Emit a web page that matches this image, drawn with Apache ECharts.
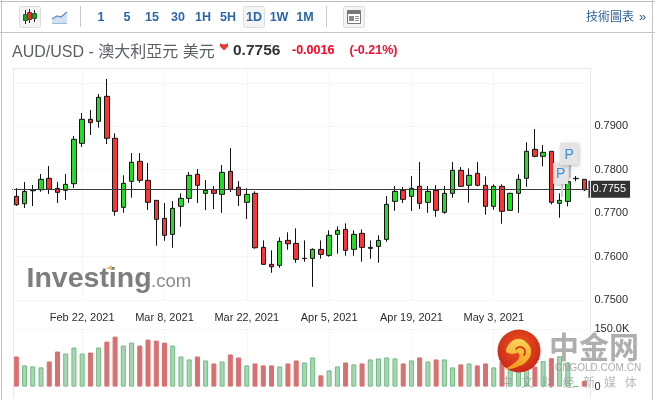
<!DOCTYPE html>
<html><head><meta charset="utf-8">
<style>html,body{margin:0;padding:0;background:#fff}#c{width:655px;height:400px}</style>
<script src="https://cdn.jsdelivr.net/npm/echarts@6/dist/echarts.min.js"></script>
</head><body><div id="c"></div>
<script>
const dates = ['Feb 10, 2021','Feb 11, 2021','Feb 12, 2021','Feb 15, 2021','Feb 16, 2021','Feb 17, 2021','Feb 18, 2021','Feb 19, 2021',
'Feb 22, 2021','Feb 23, 2021','Feb 24, 2021','Feb 25, 2021','Feb 26, 2021','Mar 1, 2021','Mar 2, 2021','Mar 3, 2021','Mar 4, 2021','Mar 5, 2021',
'Mar 8, 2021','Mar 9, 2021','Mar 10, 2021','Mar 11, 2021','Mar 12, 2021','Mar 15, 2021','Mar 16, 2021','Mar 17, 2021','Mar 18, 2021','Mar 19, 2021',
'Mar 22, 2021','Mar 23, 2021','Mar 24, 2021','Mar 25, 2021','Mar 26, 2021','Mar 29, 2021','Mar 30, 2021','Mar 31, 2021','Apr 1, 2021','Apr 2, 2021',
'Apr 5, 2021','Apr 6, 2021','Apr 7, 2021','Apr 8, 2021','Apr 9, 2021','Apr 12, 2021','Apr 13, 2021','Apr 14, 2021','Apr 15, 2021','Apr 16, 2021',
'Apr 19, 2021','Apr 20, 2021','Apr 21, 2021','Apr 22, 2021','Apr 23, 2021','Apr 26, 2021','Apr 27, 2021','Apr 28, 2021','Apr 29, 2021','Apr 30, 2021',
'May 3, 2021','May 4, 2021','May 5, 2021','May 6, 2021','May 7, 2021','May 10, 2021','May 11, 2021','May 12, 2021','May 13, 2021','May 14, 2021','May 17, 2021','May 18, 2021'];
const tickDates = ['Feb 22, 2021','Mar 8, 2021','Mar 22, 2021','Apr 5, 2021','Apr 19, 2021','May 3, 2021'];
const opens = [.77387,.77217,.77516,.77539,.77802,.77572,.77525,.77678,.78608,.79161,.79115,.79691,.78724,.77134,.77733,.78194,.77756,.77295,.7688,.76512,.77157,.77341,.77894,.77456,.77539,.77433,.77963,.77595,.77249,.77456,.76212,.75821,.75798,.76373,.76304,.75954,.75959,.76166,.76028,.76512,.76627,.76166,.76535,.76189,.76235,.76396,.77272,.77525,.77387,.77618,.77249,.77525,.77019,.77456,.77986,.77641,.77917,.77641,.77157,.77618,.77065,.77456,.77802,.7847,.78309,.78424,.77226,.77272,.77795,.77779];
const closes = [.77194,.77502,.77532,.77779,.77549,.77479,.77664,.78701,.79161,.79083,.79668,.78724,.77042,.77687,.78171,.77756,.77249,.76857,.76489,.77111,.77341,.77871,.77641,.77525,.77456,.7794,.77549,.7741,.77433,.76203,.75821,.75765,.7635,.76295,.75936,.75959,.76166,.76051,.76489,.76604,.76143,.76512,.76212,.76212,.76373,.77203,.77502,.77318,.77572,.77226,.77502,.77065,.77456,.77986,.77618,.77871,.77641,.77157,.77618,.77042,.77456,.77779,.78424,.78309,.78401,.77249,.77295,.77724,.77802,.77539];
const lows = [.77164,.77118,.77164,.77493,.7744,.77233,.77302,.77578,.78523,.788,.78968,.78592,.7694,.77009,.77355,.77701,.77072,.76249,.76364,.76203,.76687,.77233,.77233,.77072,.77095,.77009,.77486,.77164,.76864,.7618,.75811,.75627,.75742,.76157,.75857,.7588,.75304,.7595,.75996,.76065,.76019,.76019,.7588,.7595,.75857,.76341,.77055,.77233,.77049,.77095,.77009,.76917,.76986,.77355,.77602,.7724,.77618,.76963,.77078,.76756,.77065,.77009,.77608,.78286,.78078,.77203,.76894,.77157,.77733,.77509];
const highs = [.77578,.77717,.77648,.77901,.78085,.77717,.77901,.78777,.79306,.79376,.79744,.8009,.78839,.77871,.78385,.78385,.78154,.77302,.77233,.77279,.77456,.77947,.78016,.77763,.77625,.78108,.785,.7774,.77572,.77502,.76373,.76143,.76443,.76558,.7665,.76373,.76189,.76373,.76604,.76696,.76765,.76604,.76627,.76373,.76489,.77394,.77625,.77602,.77855,.78178,.77625,.77648,.77625,.78178,.78062,.78032,.78178,.77848,.77664,.77664,.7747,.77894,.78631,.78938,.78569,.78424,.77456,.77993,.77855,.77779];
const volumes = [78400,55200,52600,50000,65500,91400,86200,101700,86200,88800,101700,117200,130200,106900,114600,106900,122400,119800,114600,106900,78400,70700,78400,68100,60300,65500,83600,75900,55200,60300,55200,55200,52600,60300,68100,62900,75900,29300,42200,52600,62900,57800,60300,70700,73300,75900,73300,60300,68100,75900,65500,70700,70700,50000,57800,60300,55200,60300,50000,65000,55000,55000,60000,52000,66400,74000,79000,63000,1000,14700];
const lastPrice = 0.7755;
const volumeMax = 150000;
const intervals = ['1','5','15','30','1H','5H','1D','1W','1M'];
const intervalX = [101,127,152,178,203,228,254,279,305];
const sloganChars = ['中','文','财','经','新','媒','体'];

const FONT = '"Liberation Sans", Arial, sans-serif';
const CJK = '"Liberation Sans", "Noto Sans CJK TC", sans-serif';
const GREEN='#22dd22', RED='#ff3333', INK='#111', GRID='#f5f6f8', FRAME='#e6e9f0', BLUE='#2a66a8';
const t=(text,x,y,font,fill,extra)=>Object.assign({type:'text',style:Object.assign({text,x,y,font,fill,textVerticalAlign:'middle'},extra||{})});
const ln=(x1,y1,x2,y2,stroke,w)=>({type:'line',shape:{x1,y1,x2,y2},style:{stroke,lineWidth:w||1}});
const box=(x,y,w,h,fill,stroke,r)=>({type:'rect',shape:{x,y,width:w,height:h,r:r||0},style:{fill,stroke:stroke||null,lineWidth:1}});
const shadow=(b)=>{b.style.shadowBlur=4;b.style.shadowColor='rgba(0,0,0,.25)';b.style.shadowOffsetX=1;b.style.shadowOffsetY=1;return b;};

const gfx=[
  ln(1.5,0,1.5,400,'#c4c4c4'),ln(0,1.5,655,1.5,'#bcbcbc'),ln(652.5,0,652.5,400,'#c4c4c4'),ln(0,32.5,655,32.5,'#c4c4c4'),
  box(19.5,6.5,21,21,'#f4f4f4','#dcdcdc',2),
  ln(25.5,10,25.5,24,'#222'),box(23.5,14.5,4,6,'#1f9d2a','#1a6e22'),
  ln(29.5,9,29.5,23,'#222'),box(27.5,12.5,4,7,'#ee2b2b','#992222'),
  ln(34.5,10,34.5,22,'#222'),box(32.5,13.5,4,5,'#1f9d2a','#1a6e22'),
  {type:'polygon',shape:{points:[[52,19],[57,16],[61,17],[67,12],[67,23],[52,23]]},style:{fill:'#d3e0f2',stroke:null}},
  {type:'polyline',shape:{points:[[52,19],[57,16],[61,17],[67,12]]},style:{stroke:'#5f8cc4',fill:null,lineWidth:1.2}},
  ln(52,23.5,67,23.5,'#9db8da'),
  ln(80.5,6,80.5,27,'#c8c8c8'),ln(326.5,6,326.5,27,'#c8c8c8'),
  box(243.5,6.5,21,21,'#f4f4f4','#dcdcdc',2),
  box(343.5,6.5,21,21,'#f4f4f4','#dcdcdc',2),
  box(347.5,10.5,13,13,'#fff','#777'),box(348,11,12,3,'#777'),box(349,16,5,5,'#888'),
  ln(355,16.5,359,16.5,'#999'),ln(355,18.5,359,18.5,'#999'),ln(355,20.5,359,20.5,'#999'),
  t('技術圖表',586,18,'12px '+CJK,'#2a5f97'),t('»',639,17,'13px '+FONT,'#2a5f97'),
  t('AUD/USD - 澳大利亞元 美元',12,53,'16px '+CJK,'#5b5f66'),
  {type:'polygon',shape:{points:[[220,43.5],[224,44.5],[228,43.5],[228,46.5],[224,50.5],[220,46.5]]},style:{fill:'#e53a3a'}},
  t('0.7756',233,50.5,'bold 15.5px '+FONT,'#333'),
  t('-0.0016',292,51,'bold 12.5px '+FONT,'#ff0022'),
  t('(-0.21%)',349.5,51,'bold 12.5px '+FONT,'#ee1133'),
  ln(13.5,68.5,590.5,68.5,FRAME),ln(13.5,68,13.5,398,FRAME),ln(590.5,68,590.5,398,FRAME),
  t('Investing',26.5,279,'bold 28.5px "Liberation Sans", Arial, sans-serif','#7e7e7e'),
  {type:'polygon',shape:{points:[[106,269],[112,265],[112,269]]},style:{fill:'#f3b65c'}},
  t('.com',151,282,'18.5px "Liberation Sans", Arial, sans-serif','#8a8a8a'),
  ln(562,184,562,197,'#cfcfcf',2),shadow(box(553,163,15,21,'#e6e6e6',null)),t('P',556,174.5,'14px '+FONT,'#3b8fd6'),
  ln(570,165,570,178,'#bdbdbd',2),shadow(box(560,143,18,22,'#e4e4e4',null)),t('P',564.5,155,'14px '+FONT,'#3b8fd6'),
  {type:'circle',shape:{cx:519,cy:351,r:21.5},style:{fill:{type:'radial',x:.5,y:.4,r:.6,colorStops:[{offset:0,color:'#ef5a1c'},{offset:1,color:'#c9261a'}]}}},
  {type:'polygon',shape:{smooth:0.45,points:[[506,351],[511,342],[519,339],[527,343],[531,351],[527,361],[517,367],[506,369],[513,364],[519,358],[518,353],[512,354]]},style:{fill:{type:'linear',x:0,y:0,x2:0,y2:1,colorStops:[{offset:0,color:'#f8d458'},{offset:1,color:'#f29a1c'}]}}},
  {type:'arc',shape:{cx:520,cy:352,r:5,startAngle:-2.6,endAngle:0.8,clockwise:true},style:{stroke:'#d8401a',lineWidth:2,fill:null}},
  t('中金网',549,347,'bold 30px "Noto Sans CJK SC", sans-serif','rgba(160,160,160,.85)'),
  t('CNGOLD.COM.CN',555,368.5,'10px '+FONT,'rgba(150,150,150,.8)')
].concat(sloganChars.map((c,i)=>t(c,506.5+20.7*i,382,'12px "Noto Sans CJK SC", sans-serif','rgba(140,140,140,.6)',{textAlign:'center'})))
 .map(g=>Object.assign({z:100,silent:true},g));

const chart=echarts.init(document.getElementById('c'),null,{renderer:'canvas'});
chart.setOption({
  animation:false,
  grid:[{left:12.2,width:576.2,top:69,height:231},{left:12.2,width:576.2,top:329,height:57.6}],
  xAxis:[
    {type:'category',gridIndex:0,data:dates,axisLine:{show:false},axisTick:{show:false},axisLabel:{show:false},splitLine:{show:false}},
    {type:'category',gridIndex:1,position:'top',data:dates,axisLine:{show:false},axisTick:{show:false},splitLine:{show:false},
     axisLabel:{show:true,interval:(i,v)=>tickDates.includes(v),color:'#2b2b2b',fontFamily:FONT,fontSize:11,margin:6}}
  ],
  yAxis:[
    {type:'value',gridIndex:0,position:'right',min:0.75,max:0.8032,interval:0.01,
     axisLine:{show:false},axisTick:{show:false},
     splitLine:{show:true,showMinLine:true,showMaxLine:false,lineStyle:{color:GRID,width:1}},
     axisLabel:{color:'#2b2b2b',fontFamily:FONT,fontSize:11,margin:6,
       showMaxLabel:false,formatter:v=>(v>0.795)?'':v.toFixed(4)}},
    {type:'value',gridIndex:1,position:'right',min:0,max:volumeMax,interval:volumeMax,
     axisLine:{show:false},axisTick:{show:false},
     splitLine:{show:true,showMinLine:false,lineStyle:{color:GRID,width:1}},
     axisLabel:{color:'#2b2b2b',fontFamily:FONT,fontSize:11,margin:6,formatter:v=>v?(v/1000).toFixed(1)+'K':'0'}}
  ],
  series:[
    {type:'line',xAxisIndex:0,yAxisIndex:0,data:[],silent:true,
     markLine:{z:1,silent:true,symbol:'none',label:{show:false},animation:false,lineStyle:{color:GRID,type:'solid',width:1},data:tickDates.map(d=>({xAxis:d}))}},
    {type:'candlestick',xAxisIndex:0,yAxisIndex:0,z:3,barWidth:5,silent:true,
     data:dates.map((d,i)=>[opens[i],closes[i],lows[i],highs[i]]),
     itemStyle:{color:GREEN,color0:RED,borderColor:INK,borderColor0:INK,borderWidth:1},
     markLine:{z:5,silent:true,symbol:'none',animation:false,precision:4,
       lineStyle:{color:'#3a3a3a',type:'solid',width:1},
       label:{show:true,position:'end',distance:0,formatter:()=>lastPrice.toFixed(4),color:'#fff',backgroundColor:'#333',fontFamily:FONT,fontSize:11,padding:[3,4,3,4]},
       data:[{yAxis:lastPrice}]}},
    {type:'bar',xAxisIndex:1,yAxisIndex:1,barWidth:5,z:3,silent:true,
     data:volumes.map((v,i)=>{const up=closes[i]>=opens[i];
       return {value:v,itemStyle:up?{color:'#a6d8b0',borderColor:'#74b888',borderWidth:1}:{color:'#d97070',borderColor:'#d97070',borderWidth:1}};}),
     markLine:{z:1,silent:true,symbol:'none',label:{show:false},animation:false,lineStyle:{color:GRID,type:'solid',width:1},data:tickDates.map(d=>({xAxis:d}))}}
  ],
  graphic:{elements:gfx.concat(intervals.map((s,i)=>Object.assign(t(s,intervalX[i],17.5,'bold 12.5px '+FONT,BLUE,{textAlign:'center'}),{z:100,silent:true})))}
});
</script></body></html>
